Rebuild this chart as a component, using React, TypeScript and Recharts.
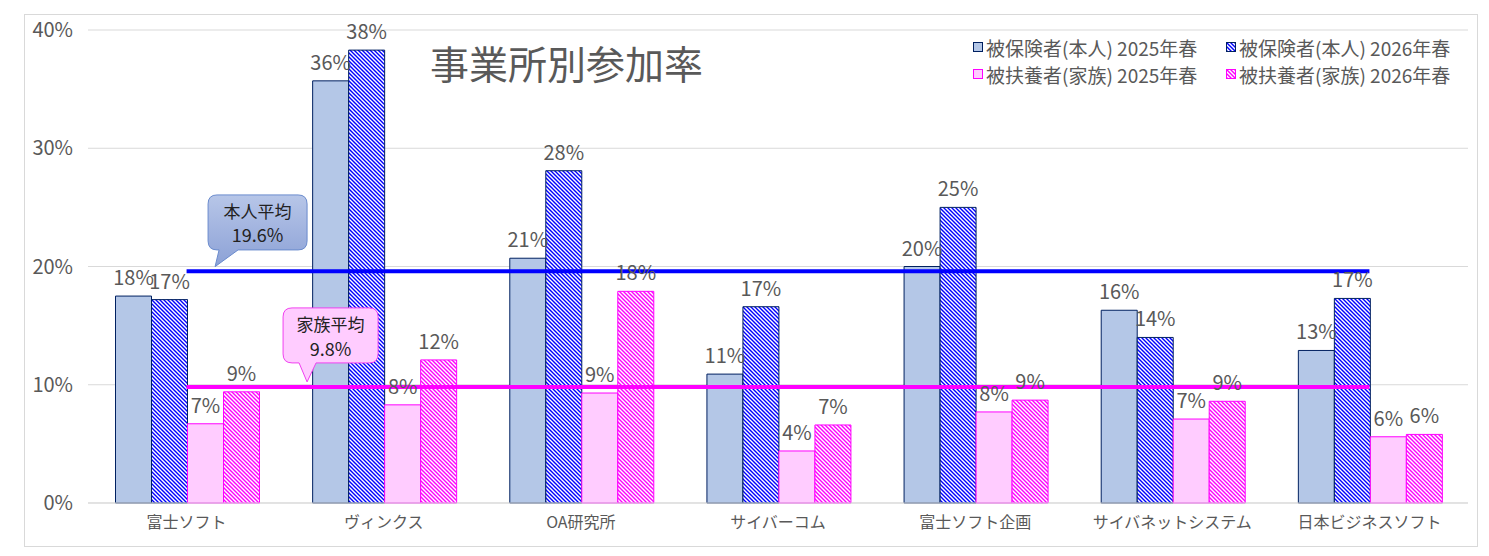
import React from "react"
import { ComposedChart, Bar, Line, XAxis, YAxis, CartesianGrid, LabelList, ReferenceDot } from "recharts"

const categories = ["富士ソフト", "ヴィンクス", "OA研究所", "サイバーコム", "富士ソフト企画", "サイバネットシステム", "日本ビジネスソフト"]
const honnin2025 = [17.5, 35.7, 20.7, 10.9, 20.0, 16.3, 12.9]
const honnin2026 = [17.2, 38.3, 28.1, 16.6, 25.0, 14.0, 17.3]
const kazoku2025 = [6.7, 8.3, 9.3, 4.4, 7.7, 7.1, 5.6]
const kazoku2026 = [9.4, 12.1, 17.9, 6.6, 8.7, 8.6, 5.8]
const honninAvg = 19.6
const kazokuAvg = 9.8
const yTicks = [0, 10, 20, 30, 40]

const seriesNames = ["被保険者(本人) 2025年春", "被保険者(本人) 2026年春", "被扶養者(家族) 2025年春", "被扶養者(家族) 2026年春"]

const data = categories.map((name, i) => ({
  name,
  h25: honnin2025[i],
  h26: honnin2026[i],
  k25: kazoku2025[i],
  k26: kazoku2026[i],
  hAvg: honninAvg,
  kAvg: kazokuAvg,
}))

const FONT = "'Noto Sans CJK JP', 'Noto Sans', sans-serif"
const GRAY = "#595959"

function calloutPath(x1: number, y1: number, x2: number, y2: number, b1: number, tx: number, ty: number, b2: number, r: number) {
  return `M${x1 + r},${y1} H${x2 - r} Q${x2},${y1} ${x2},${y1 + r} V${y2 - r} Q${x2},${y2} ${x2 - r},${y2} H${b2} L${tx},${ty} L${b1},${y2} H${x1 + r} Q${x1},${y2} ${x1},${y2 - r} V${y1 + r} Q${x1},${y1} ${x1 + r},${y1} Z`
}

// callout boxes are placed relative to the first point of each average line
function HonninCallout(props: any) {
  const { cx, cy } = props
  const d = calloutPath(cx + 21.5, cy - 76.3, cx + 120.5, cy - 21.3, cx + 32.5, cx + 28.5, cy - 4.6, cx + 51.5, 9)
  return (
    <g>
      <path d={d} fill="url(#honninGrad)" stroke="#6a8bcd" strokeWidth={1} />
      <text x={cx + 71} y={cy - 60.5} textAnchor="middle" dominantBaseline="central" fontSize={17} fill="#222" fontFamily={FONT}>本人平均</text>
      <text x={cx + 71} y={cy - 37.5} textAnchor="middle" dominantBaseline="central" fontSize={18} fill="#222" fontFamily={FONT}>{honninAvg.toFixed(1)}%</text>
    </g>
  )
}

function KazokuCallout(props: any) {
  const { cx, cy } = props
  const d = calloutPath(cx + 96.5, cy - 79.2, cx + 191.5, cy - 24.2, cx + 112.5, cx + 120.5, cy - 5.2, cx + 129.5, 9)
  return (
    <g>
      <path d={d} fill="#ffccff" stroke="#f040f0" strokeWidth={1} />
      <text x={cx + 144} y={cy - 64} textAnchor="middle" dominantBaseline="central" fontSize={17} fill="#222" fontFamily={FONT}>家族平均</text>
      <text x={cx + 144} y={cy - 39.5} textAnchor="middle" dominantBaseline="central" fontSize={18} fill="#222" fontFamily={FONT}>{kazokuAvg.toFixed(1)}%</text>
    </g>
  )
}

const pct = (v: any) => `${Math.round(Number(v))}%`

function Marker({ fill, stroke }: { fill: string; stroke: string }) {
  return (
    <svg width={10} height={10} style={{ display: "block" }}>
      <rect x={0.5} y={0.5} width={9} height={9} fill={fill} stroke={stroke} strokeWidth={1} />
    </svg>
  )
}

const legendItems = [
  { label: seriesNames[0], fill: "#b4c7e7", stroke: "#002060", left: 973, top: 47 },
  { label: seriesNames[1], fill: "url(#stripeBlue)", stroke: "#002060", left: 1226, top: 47 },
  { label: seriesNames[2], fill: "#ffccff", stroke: "#ff00ff", left: 973, top: 74 },
  { label: seriesNames[3], fill: "url(#stripePink)", stroke: "#ff00ff", left: 1226, top: 74 },
]

export default function App() {
  return (
    <div style={{ position: "absolute", left: 0, top: 0, width: 1489, height: 556, background: "#fff", fontFamily: FONT }}>
      <svg width={0} height={0} style={{ position: "absolute" }}>
        <defs>
          <pattern id="stripeBlue" patternUnits="userSpaceOnUse" width={4} height={4}>
            <rect width={4} height={4} fill="#fff" />
            <path d="M-1,-1 L5,5 M3,-1 L5,1 M-1,3 L1,5" stroke="#0000ff" strokeWidth={1.4} />
          </pattern>
          <pattern id="stripePink" patternUnits="userSpaceOnUse" width={4} height={4}>
            <rect width={4} height={4} fill="#fff" />
            <path d="M-1,-1 L5,5 M3,-1 L5,1 M-1,3 L1,5" stroke="#ff00ff" strokeWidth={1.4} />
          </pattern>
          <linearGradient id="honninGrad" x1="0" y1="0" x2="0" y2="1">
            <stop offset="0%" stopColor="#b7c6e8" />
            <stop offset="100%" stopColor="#8ca1d6" />
          </linearGradient>
        </defs>
      </svg>

      <ComposedChart
        width={1489}
        height={556}
        data={data}
        margin={{ top: 30, right: 21, bottom: 23, left: 24 }}
        barGap={0}
        barCategoryGap={27.5}
      >
        <CartesianGrid vertical={false} stroke="#d9d9d9" />
        <XAxis
          dataKey="name"
          height={30}
          axisLine={{ stroke: "#d9d9d9" }}
          tickLine={false}
          tickMargin={8}
          tick={{ fill: GRAY, fontSize: 16, fontFamily: FONT }}
          interval={0}
        />
        <YAxis
          width={64}
          domain={[0, 40]}
          ticks={yTicks}
          tickFormatter={(v) => `${v}%`}
          axisLine={false}
          tickLine={false}
          tickMargin={9}
          tick={{ fill: GRAY, fontSize: 20, fontFamily: FONT }}
        />
        <Bar dataKey="h25" name={seriesNames[0]} fill="#b4c7e7" stroke="#002060" strokeWidth={1} isAnimationActive={false}>
          <LabelList dataKey="h25" position="top" offset={11} formatter={pct} fill={GRAY} fontSize={20} fontFamily={FONT} />
        </Bar>
        <Bar dataKey="h26" name={seriesNames[1]} fill="url(#stripeBlue)" stroke="#002060" strokeWidth={1} isAnimationActive={false}>
          <LabelList dataKey="h26" position="top" offset={11} formatter={pct} fill={GRAY} fontSize={20} fontFamily={FONT} />
        </Bar>
        <Bar dataKey="k25" name={seriesNames[2]} fill="#ffccff" stroke="#ff00ff" strokeWidth={1} isAnimationActive={false}>
          <LabelList dataKey="k25" position="top" offset={11} formatter={pct} fill={GRAY} fontSize={20} fontFamily={FONT} />
        </Bar>
        <Bar dataKey="k26" name={seriesNames[3]} fill="url(#stripePink)" stroke="#ff00ff" strokeWidth={1} isAnimationActive={false}>
          <LabelList dataKey="k26" position="top" offset={11} formatter={pct} fill={GRAY} fontSize={20} fontFamily={FONT} />
        </Bar>
        <Line dataKey="hAvg" stroke="#0000ff" strokeWidth={4} dot={false} activeDot={false} isAnimationActive={false} />
        <Line dataKey="kAvg" stroke="#ff00ff" strokeWidth={4} dot={false} activeDot={false} isAnimationActive={false} />
        <ReferenceDot x={categories[0]} y={honninAvg} ifOverflow="visible" shape={HonninCallout} />
        <ReferenceDot x={categories[0]} y={kazokuAvg} ifOverflow="visible" shape={KazokuCallout} />
      </ComposedChart>

      <div style={{ position: "absolute", left: 430, top: 40, fontSize: 39, lineHeight: "44px", color: GRAY, whiteSpace: "nowrap" }}>
        事業所別参加率
      </div>

      {legendItems.map((item) => (
        <div
          key={item.label}
          style={{ position: "absolute", left: item.left, top: item.top - 12, height: 24, display: "flex", alignItems: "center", gap: 3, fontSize: 19, color: GRAY, whiteSpace: "nowrap" }}
        >
          <Marker fill={item.fill} stroke={item.stroke} />
          <span>{item.label}</span>
        </div>
      ))}

      <div style={{ position: "absolute", left: 24, top: 14, width: 1452, height: 531, border: "1px solid #d9d9d9", pointerEvents: "none" }} />
    </div>
  )
}
